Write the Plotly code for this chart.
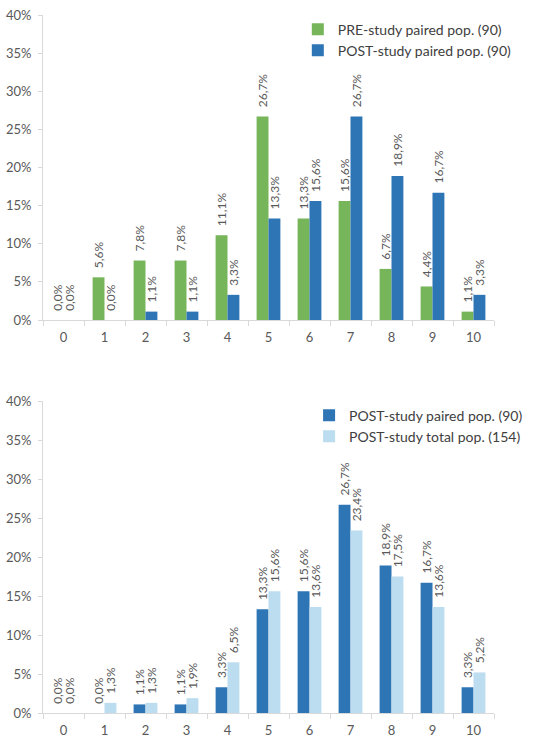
import plotly.graph_objects as go
from plotly.subplots import make_subplots

categories = ["0", "1", "2", "3", "4", "5", "6", "7", "8", "9", "10"]
pre_paired = [0.0, 5.6, 7.8, 7.8, 11.1, 26.7, 13.3, 15.6, 6.7, 4.4, 1.1]
post_paired = [0.0, 0.0, 1.1, 1.1, 3.3, 13.3, 15.6, 26.7, 18.9, 16.7, 3.3]
post_total = [0.0, 1.3, 1.3, 1.9, 6.5, 15.6, 13.6, 23.4, 17.5, 13.6, 5.2]
y_ticks = [0, 5, 10, 15, 20, 25, 30, 35, 40]

GREEN = "#77b55a"
BLUE = "#2e75b6"
LIGHT = "#bcdcf0"
TXT = "#595959"
FONT = "Lato"

W, H = 536, 747
ML, MR, MT, MB = 43, 16, 8, 14


def lab(vals):
    return ["\u00a0\u00a0" + f"{v:.1f}%".replace(".", ",") for v in vals]


def ydom(top_px, bot_px):
    ph = H - MT - MB
    return [1 - (bot_px - MT) / ph, 1 - (top_px - MT) / ph]


fig = make_subplots(rows=2, cols=1)

def bar(vals, name, color, legend):
    return go.Bar(
        x=categories, y=vals, name=name, marker=dict(color=color, line=dict(width=0)),
        text=lab(vals), textposition="outside", textangle=-90,
        textfont=dict(family=FONT, size=12, color=TXT),
        cliponaxis=False, constraintext="none", legend=legend,
    )

fig.add_trace(bar(pre_paired, "PRE-study paired pop. (90)", GREEN, "legend"), row=1, col=1)
fig.add_trace(bar(post_paired, "POST-study paired pop. (90)", BLUE, "legend"), row=1, col=1)
fig.add_trace(bar(post_paired, "POST-study paired pop. (90)", BLUE, "legend2"), row=2, col=1)
fig.add_trace(bar(post_total, "POST-study total pop. (154)", LIGHT, "legend2"), row=2, col=1)

axis_common_y = dict(
    range=[0, 40], tickvals=y_ticks, ticktext=[f"{t}%" for t in y_ticks],
    showgrid=False, zeroline=False, showline=True, linecolor="#d9d9d9", linewidth=1,
    ticks="outside", ticklen=4, tickcolor="#d9d9d9", ticklabelstandoff=4,
    tickfont=dict(family=FONT, size=13, color=TXT), automargin=False,
)
axis_common_x = dict(
    showgrid=False, zeroline=False, showline=True, linecolor="#d9d9d9", linewidth=1,
    ticks="outside", ticklen=5, tickcolor="#d9d9d9", tickson="boundaries",
    ticklabelstandoff=5,
    tickfont=dict(family=FONT, size=13, color=TXT), automargin=False,
)

legend_common = dict(
    xanchor="left", yanchor="top", bgcolor="rgba(0,0,0,0)",
    font=dict(family=FONT, size=14, color="#404040"), itemwidth=30, tracegroupgap=0,
)

fig.update_layout(
    width=W, height=H,
    margin=dict(l=ML, r=MR, t=MT, b=MB),
    paper_bgcolor="white", plot_bgcolor="white",
    barmode="group", bargap=0.42, bargroupgap=0,
    font=dict(family=FONT, color=TXT),
    xaxis=dict(domain=[0, 1], **axis_common_x),
    xaxis2=dict(domain=[0, 1], **axis_common_x),
    yaxis=dict(domain=ydom(15, 320), **axis_common_y),
    yaxis2=dict(domain=ydom(401, 713), **axis_common_y),
    legend=dict(x=0.565, y=ydom(15, 320)[1] + 0.002, **legend_common),
    legend2=dict(x=0.59, y=ydom(401, 713)[1] + 0.002, **legend_common),
    showlegend=True,
)

fig.write_html("out.html")
